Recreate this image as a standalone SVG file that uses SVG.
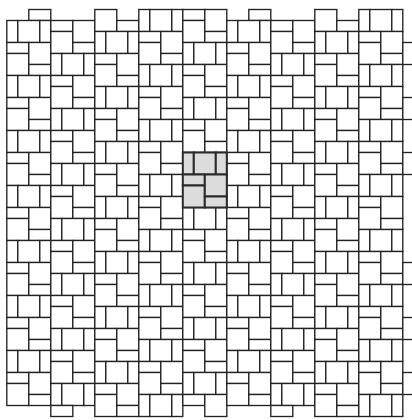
<svg xmlns="http://www.w3.org/2000/svg" width="412" height="420" viewBox="0 0 412 420">
<defs>
<rect id="n" width="11" height="22"/>
<rect id="q" width="22" height="22"/>
<rect id="h" width="22" height="11"/>
<g id="T"><use href="#n"/><use href="#q" x="11"/><use href="#n" x="33"/></g>
<g id="B"><use href="#h" y="22"/><use href="#q" y="33"/><use href="#q" x="22" y="22"/><use href="#h" x="22" y="44"/></g>
<g id="U"><use href="#T"/><use href="#B"/></g>
<g id="S6"><use href="#U"/><use href="#U" y="55"/><use href="#U" y="110"/><use href="#U" y="165"/><use href="#U" y="220"/><use href="#U" y="275"/></g>
<g id="S7"><use href="#S6"/><use href="#U" y="330"/></g>
</defs>
<rect width="412" height="420" fill="#fff"/>
<g id="tiling" transform="translate(6.8 20.5)" fill="#fff" stroke="#222" stroke-width="1.35">
<g id="col0"><use href="#h" x="22" y="-11"/><use href="#S7" x="0" y="0"/></g>
<g id="col1"><use href="#B" x="44" y="-22"/><use href="#S6" x="44" y="33"/><use href="#T" x="44" y="363"/><use href="#h" x="44" y="385"/></g>
<g id="col2"><use href="#q" x="88" y="-11"/><use href="#h" x="110" y="0"/><use href="#S7" x="88" y="11"/></g>
<g id="col3"><use href="#S7" x="132" y="-11"/><use href="#T" x="132" y="374"/></g>
<g id="col4"><use href="#B" x="176" y="-33"/><use href="#S6" x="176" y="22"/><use href="#T" x="176" y="352"/><use href="#h" x="176" y="374"/><use href="#q" x="198" y="374"/></g>
<g id="col5"><use href="#h" x="242" y="-11"/><use href="#S7" x="220" y="0"/></g>
<g id="col6"><use href="#B" x="264" y="-22"/><use href="#S6" x="264" y="33"/><use href="#T" x="264" y="363"/><use href="#h" x="264" y="385"/></g>
<g id="col7"><use href="#q" x="308" y="-11"/><use href="#h" x="330" y="0"/><use href="#S7" x="308" y="11"/></g>
<g id="col8"><use href="#S7" x="352" y="-11"/><use href="#T" x="352" y="374"/></g>
<g id="col9"><use href="#n" x="396" y="22"/><use href="#n" x="396" y="77"/><use href="#n" x="396" y="132"/><use href="#n" x="396" y="242"/><use href="#n" x="396" y="297"/><use href="#n" x="396" y="352"/></g>
<g id="highlight"><use href="#U" x="176" y="132" fill="#dcdcdc" stroke="#2a2a2a" stroke-width="2"/></g>
</g>
</svg>
